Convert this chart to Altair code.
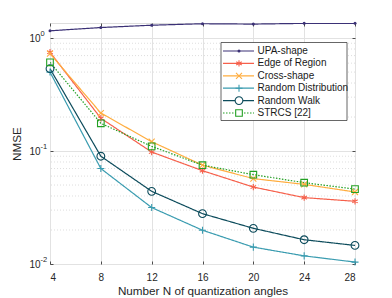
import math
import altair as alt
import pandas as pd

# ---------------- data ----------------
N = [4, 8, 12, 16, 20, 24, 28]
series = ["UPA-shape", "Edge of Region", "Cross-shape",
          "Random Distribution", "Random Walk", "STRCS [22]"]
upa = [1.16, 1.24, 1.30, 1.34, 1.33, 1.35, 1.35]
edge = [0.75, 0.195, 0.098, 0.067, 0.048, 0.0387, 0.0359]
cross = [0.73, 0.217, 0.121, 0.075, 0.057, 0.0507, 0.0434]
rdist = [0.50, 0.070, 0.0316, 0.0199, 0.0141, 0.0118, 0.0104]
rwalk = [0.536, 0.090, 0.044, 0.0279, 0.0207, 0.0164, 0.0146]
strcs = [0.61, 0.176, 0.110, 0.075, 0.0618, 0.0525, 0.046]
x_ticks = [4, 8, 12, 16, 20, 24, 28]
y_ticks = [0.01, 0.1, 1]
y_exponents = ["-2", "-1", "0"]
y_minor = [m * d for d in (0.01, 0.1) for m in range(2, 10)]

values = [upa, edge, cross, rdist, rwalk, strcs]
rows = []
for s, vals in zip(series, values):
    for n, v in zip(N, vals):
        rows.append({"series": s, "N": n, "nmse": v})
df = pd.DataFrame(rows)

# ---------------- styles ----------------
colors = ["#3b3176", "#f6604b", "#ffad3f", "#3a9cb0", "#0d4c5c", "#23a023"]
dashes = [[1, 0], [1, 0], [1, 0], [1, 0], [1, 0], [1.5, 1.5]]
ast = "M0,-1L0,1M-0.87,-0.5L0.87,0.5M-0.87,0.5L0.87,-0.5"
xs = "M-1,-1L1,1M-1,1L1,-1"
plus = "M0,-1L0,1M-1,0L1,0"
shapes = ["circle", ast, xs, plus, "circle", "square"]
sizes = [9, 40, 36, 50, 60, 44]
filled = [True, False, False, False, False, False]

W, H = 305, 241
XMIN, XMAX = 4, 28
YMIN, YMAX = 0.01, 1.36
FONT = "Liberation Sans"
TXT = "#262626"

xscale = alt.Scale(domain=[XMIN, XMAX], nice=False, zero=False)
yscale = alt.Scale(type="log", domain=[YMIN, YMAX], nice=False)


def X(field="N:Q", axis=None):
    return alt.X(field, scale=xscale, axis=axis, title=None)


def Y(field="nmse:Q", axis=None):
    return alt.Y(field, scale=yscale, axis=axis, title=None)


# pixel -> data helpers for legend placement inside plot
def xv(px):
    return XMIN + px / W * (XMAX - XMIN)


def yv(py):
    L = math.log10(YMAX) - math.log10(YMIN)
    return 10 ** (math.log10(YMAX) - py / H * L)


base = alt.Chart(df)

# minor dotted grid
minor = alt.Chart(pd.DataFrame({"v": y_minor})).mark_rule(
    color="#d0d0d0", strokeWidth=0.7, strokeDash=[1, 2]
).encode(y=Y("v:Q"))

lines = base.mark_line(strokeWidth=1.2, clip=True).encode(
    x=alt.X("N:Q", scale=xscale, title="Number N of quantization angles",
            axis=alt.Axis(values=x_ticks, grid=True, gridColor="#e2e2e2",
                          ticks=False, domain=False, labelPadding=8,
                          labelFont=FONT, labelFontSize=10, labelColor=TXT,
                          titleFont=FONT, titleFontSize=11.7, titleColor=TXT,
                          titleFontWeight="normal", titlePadding=3)),
    y=alt.Y("nmse:Q", scale=yscale, title="NMSE",
            axis=alt.Axis(values=y_ticks, grid=True, gridColor="#e2e2e2",
                          ticks=False, domain=False, labelPadding=10,
                          labelExpr="'10'", labelBaseline="middle",
                          labelFont=FONT, labelFontSize=10, labelColor=TXT,
                          titleFont=FONT, titleFontSize=11.7, titleColor=TXT,
                          titleFontWeight="normal", titlePadding=6)),
    color=alt.Color("series:N", scale=alt.Scale(domain=series, range=colors), legend=None),
    strokeDash=alt.StrokeDash("series:N", scale=alt.Scale(domain=series, range=dashes), legend=None),
)

# exponents of the y tick labels
expo = alt.Chart(pd.DataFrame({"v": y_ticks, "e": y_exponents, "x": [XMIN] * 3})).mark_text(
    align="left", baseline="middle", font=FONT, fontSize=7.5, color=TXT, dx=-9.5, dy=-4.5
).encode(x=X("x:Q"), y=Y("v:Q"), text="e:N")

# inward ticks
tickA = base.mark_point(opacity=0).encode(
    x=X(axis=alt.Axis(orient="top", offset=-H, values=x_ticks, labels=False, grid=False,
                      domain=False, tickSize=3, tickColor=TXT, tickWidth=0.8)),
    y=Y(axis=alt.Axis(orient="right", offset=-W, values=y_ticks, labels=False, grid=False,
                      domain=False, tickSize=3, tickColor=TXT, tickWidth=0.8)),
)
tickB = base.mark_point(opacity=0).encode(
    x=X(axis=alt.Axis(orient="bottom", offset=-H, values=x_ticks, labels=False, grid=False,
                      domain=False, tickSize=3, tickColor=TXT, tickWidth=0.8)),
    y=Y(axis=alt.Axis(orient="left", offset=-W, values=y_ticks, labels=False, grid=False,
                      domain=False, tickSize=3, tickColor=TXT, tickWidth=0.8)),
)

layers = [minor, lines, expo, tickA, tickB]

# markers on the data
for i, s in enumerate(series):
    layers.append(
        base.transform_filter(alt.datum.series == s).mark_point(
            shape=shapes[i], size=sizes[i], filled=filled[i], color=colors[i],
            strokeWidth=1.1, opacity=1,
        ).encode(x=X(), y=Y())
    )

# legend
LX0, LX1, LY0, LY1 = 171, 297, 19.5, 97.5
box = alt.Chart(pd.DataFrame({"x": [xv(LX0)], "x2": [xv(LX1)],
                              "y": [yv(LY0)], "y2": [yv(LY1)]})).mark_rect(
    fill="white", stroke="#404040", strokeWidth=0.8
).encode(x=X("x:Q"), x2="x2:Q", y=Y("y:Q"), y2="y2:Q")
layers.append(box)

leg = pd.DataFrame({"series": series, "idx": list(range(len(series)))})
leg["ly"] = [yv(28 + 12.4 * i) for i in range(len(series))]
leg["lx0"] = xv(173)
leg["lx1"] = xv(204)
leg["lxm"] = xv(189)
leg["lxt"] = xv(207.5)
lbase = alt.Chart(leg)

layers.append(
    lbase.mark_rule(strokeWidth=1.2).encode(
        x=X("lx0:Q"), x2="lx1:Q", y=Y("ly:Q"),
        color=alt.Color("series:N", scale=alt.Scale(domain=series, range=colors), legend=None),
        strokeDash=alt.StrokeDash("series:N", scale=alt.Scale(domain=series, range=dashes), legend=None),
    )
)
for i, s in enumerate(series):
    layers.append(
        lbase.transform_filter(alt.datum.series == s).mark_point(
            shape=shapes[i], size=sizes[i], filled=filled[i], color=colors[i],
            strokeWidth=1.1, opacity=1, fill="white" if not filled[i] else colors[i],
        ).encode(x=X("lxm:Q"), y=Y("ly:Q"))
    )
layers.append(
    lbase.mark_text(align="left", baseline="middle", font=FONT, fontSize=10, color="#1a1a1a").encode(
        x=X("lxt:Q"), y=Y("ly:Q"), text="series:N"
    )
)

chart = alt.layer(*layers).resolve_axis(x="independent", y="independent").properties(
    width=W, height=H,
    autosize=alt.AutoSizeParams(type="none"),
    padding={"left": 42, "top": 15, "right": 6, "bottom": 34},
).configure_view(stroke=TXT, strokeWidth=0.9).configure(background="white")

chart.save("out.html", embed_options={"renderer": "svg", "actions": False})
